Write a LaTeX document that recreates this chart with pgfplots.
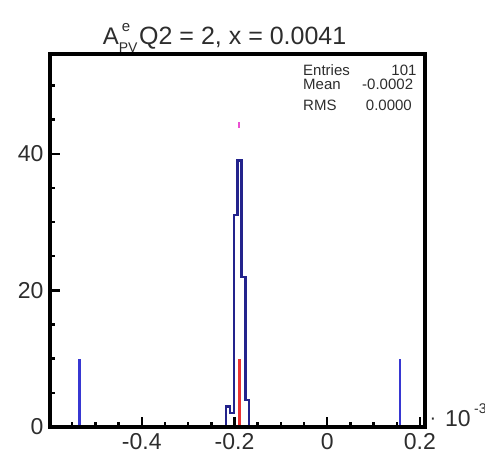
\documentclass[border=0pt]{standalone}
\usepackage{fontspec}
\setmainfont{Liberation Sans}
\usepackage{pgfplots}
\pgfplotsset{compat=1.18}
\definecolor{histblue}{RGB}{35,35,140}
\definecolor{spikeblue}{RGB}{55,55,210}
\definecolor{meanred}{RGB}{235,50,50}
\definecolor{magmark}{RGB}{235,80,210}
\definecolor{txt}{RGB}{45,45,45}
\begin{document}
\begin{tikzpicture}
\path[use as bounding box] (-50pt,-26pt) rectangle (435pt,427pt);
\begin{axis}[
  at={(0pt,0pt)}, anchor=south west,
  scale only axis, width=375pt, height=373pt,
  xmin=-0.598, xmax=0.211, ymin=0, ymax=54.6,
  axis line style={line width=3.2pt},
  tick style={black, line width=2.4pt},
  major tick length=10pt, minor tick length=5pt,
  tick align=inside,
  xtick pos=left, ytick pos=left,
  xtick={-0.4,-0.2,0,0.2}, xticklabels={-0.4,-0.2,0,0.2},
  minor xtick={-0.55,-0.5,-0.45,-0.35,-0.3,-0.25,-0.15,-0.1,-0.05,0.05,0.1,0.15},
  ytick={0,20,40}, yticklabels={0,20,40},
  minor ytick={5,10,15,25,30,35,45,50},
  tick label style={font=\fontsize{23}{23}\selectfont, text=txt},
  xticklabel style={yshift=-2.5pt},
  yticklabel style={xshift=-3pt},
  clip=false,
]
\addplot[histblue, line width=2.2pt, const plot] coordinates {
  (-0.2190,0) (-0.2190,3) (-0.2104,2) (-0.2019,31) (-0.1934,39)
  (-0.1849,22) (-0.1764,4) (-0.1679,0)};
\addplot[spikeblue, line width=2.8pt] coordinates {(-0.535,0) (-0.535,10)};
\addplot[spikeblue, line width=2.8pt] coordinates {(0.1569,0) (0.1569,10)};
\addplot[meanred, line width=2.6pt] coordinates {(-0.1898,0) (-0.1898,10)};
\addplot[magmark, line width=2pt] coordinates {(-0.1898,43.8) (-0.1898,44.6)};
\draw[black, line width=3.2pt] (rel axis cs:0,0) rectangle (rel axis cs:1,1);
\end{axis}
% title
\node[anchor=base west, inner sep=0pt, text=txt, font=\fontsize{24}{24}\selectfont] at (52.7pt,382pt)
  {A\rlap{\raisebox{13.5pt}{\hspace{3pt}\fontsize{15}{15}\selectfont e}}\raisebox{-8pt}{\fontsize{14}{14}\selectfont PV}};
\node[anchor=base west, inner sep=0pt, text=txt, font=\fontsize{25}{25}\selectfont] at (89pt,382pt)
  {Q2 = 2, x = 0.0041};
% stats box
\begin{scope}[every node/.style={inner sep=0pt, text=txt, font=\fontsize{15}{15}\selectfont}]
\node[anchor=base west] at (253pt,351.3pt) {Entries};
\node[anchor=base east] at (366.7pt,351.3pt) {101};
\node[anchor=base west] at (253pt,337pt) {Mean};
\node[anchor=base east] at (363.3pt,337pt) {-0.0002};
\node[anchor=base west] at (253pt,316.3pt) {RMS};
\node[anchor=base east] at (362pt,316.3pt) {0.0000};
\end{scope}
% exponent
\node[anchor=center, inner sep=0pt, text=txt, font=\fontsize{20}{20}\selectfont] at (383pt,5.3pt) {·};
\node[anchor=base west, inner sep=0pt, text=txt, font=\fontsize{23}{23}\selectfont] at (395pt,0.3pt) {10};
\node[anchor=base west, inner sep=0pt, text=txt, font=\fontsize{14}{14}\selectfont] at (424pt,14pt) {-3};
\end{tikzpicture}
\end{document}
